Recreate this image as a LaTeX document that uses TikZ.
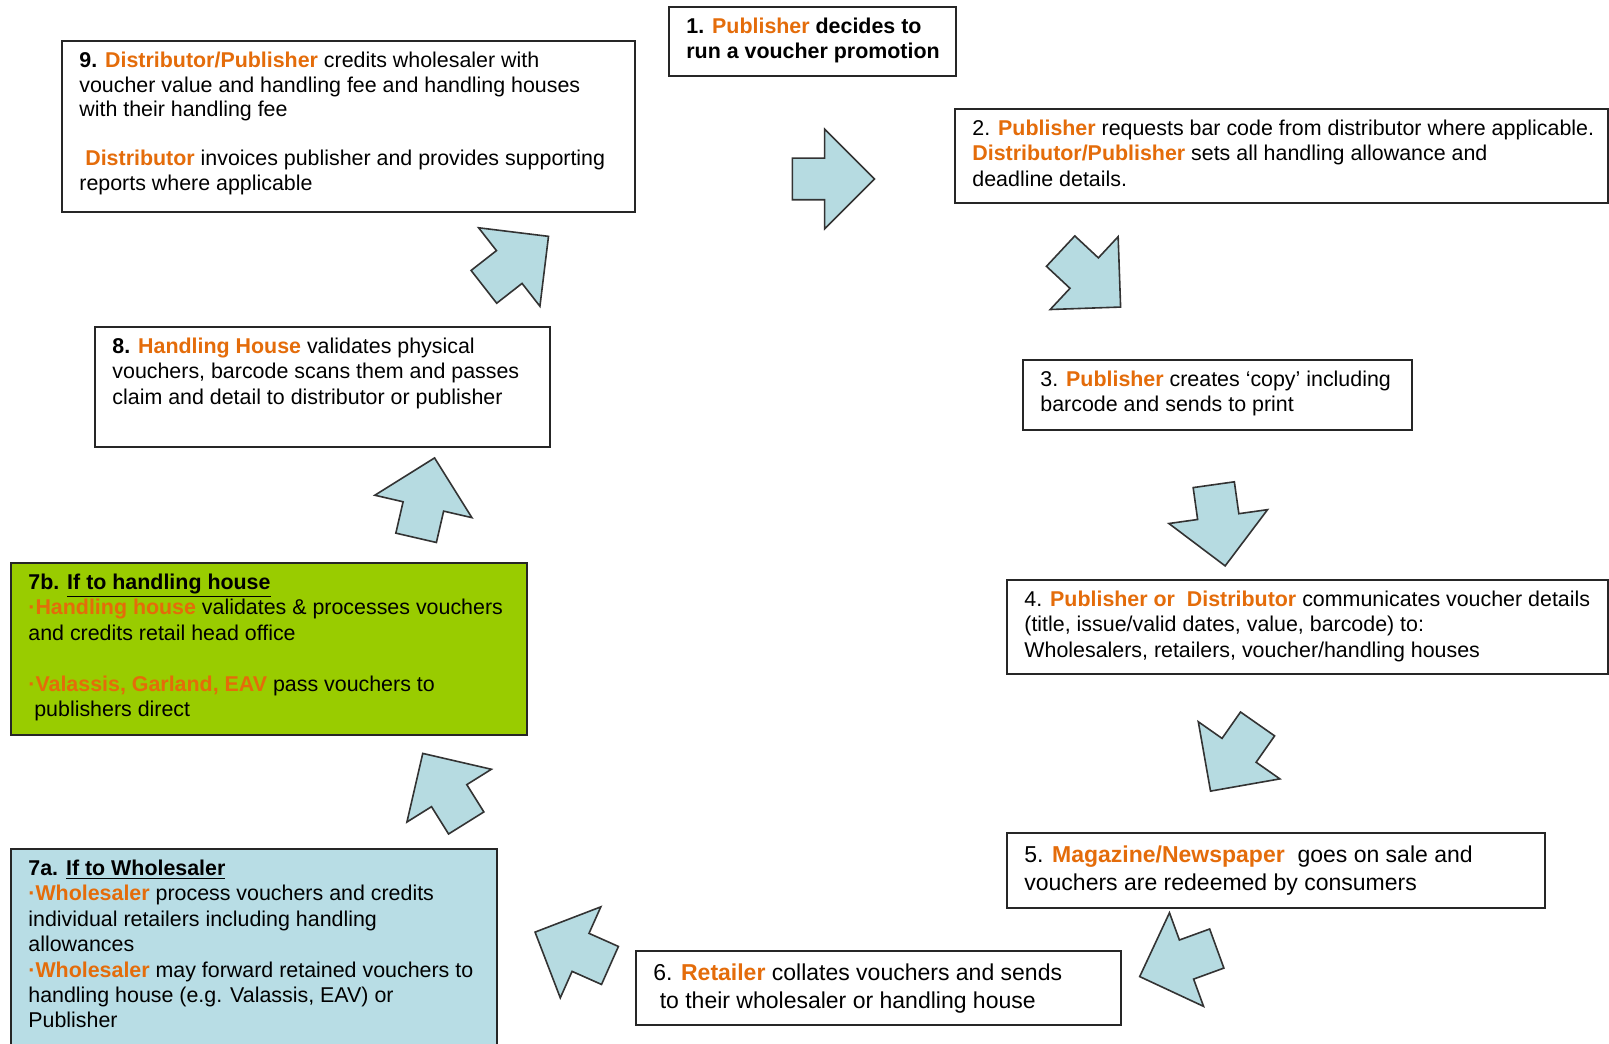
\documentclass[tikz,border=0pt]{standalone}
\usepackage{fontspec}
\setmainfont{Liberation Sans}
\usetikzlibrary{shapes.arrows}
\definecolor{actor}{RGB}{228,108,10}
\definecolor{flowblue}{RGB}{182,219,225}
\definecolor{whblue}{RGB}{184,221,229}
\definecolor{hhgreen}{RGB}{153,204,0}
\newcommand{\who}[1]{\textcolor{actor}{\textbf{#1}}}
\newcommand{\dotb}{\textcolor{actor}{\textbf{\char"00B7}}}

\begin{document}
\begin{tikzpicture}[x=0.5pt, y=-0.5pt]
	\tikzstyle{card} = [draw=black!85, line width=0.9pt, anchor=north west, inner sep=0pt]
	\tikzstyle{cardtext} = [anchor=north west, align=left, inner xsep=9pt, inner ysep=5.8pt, font=\fontsize{10.7}{12.7}\selectfont]
	\tikzstyle{flow} = [single arrow, draw=black!80, line width=0.8pt, fill=flowblue, minimum height=41pt, minimum width=49pt, single arrow head extend=14.5pt, inner xsep=0pt, inner ysep=10pt]
	\path[use as bounding box, fill=white] (0,0) rectangle (1609,1043);

	% the boxes
	\node[card, minimum width=143.5pt, minimum height=34.5pt] (s1) at (668,6) {};
	\node[card, minimum width=326.5pt, minimum height=47pt] (s2) at (954,108) {};
	\node[card, minimum width=194.5pt, minimum height=35pt] (s3) at (1022,359) {};
	\node[card, minimum width=300.5pt, minimum height=47pt] (s4) at (1006,579) {};
	\node[card, minimum width=269pt, minimum height=37.5pt] (s5) at (1006,832) {};
	\node[card, minimum width=242.5pt, minimum height=37pt] (s6) at (635,950) {};
	\node[card, fill=whblue, minimum width=243pt, minimum height=110pt] (s7a) at (10,848) {};
	\node[card, fill=hhgreen, minimum width=258pt, minimum height=86pt] (s7b) at (10,562) {};
	\node[card, minimum width=227.5pt, minimum height=60pt] (s8) at (94,326) {};
	\node[card, minimum width=286.5pt, minimum height=85.5pt] (s9) at (61,40) {};

	% the texts
	\node[cardtext, font=\fontsize{10.7}{12.3}\selectfont\bfseries] (t1) at (s1.north west) {1. \textcolor{actor}{Publisher} decides to\\run a voucher promotion};
	\node[cardtext] (t2) at (s2.north west) {2. \who{Publisher} requests bar code from distributor where applicable.\\\who{Distributor/Publisher} sets all handling allowance and\\deadline details.};
	\node[cardtext] (t3) at (s3.north west) {3. \who{Publisher} creates `copy' including\\barcode and sends to print};
	\node[cardtext] (t4) at (s4.north west) {4. \who{Publisher or\ \ Distributor} communicates voucher details\\(title, issue/valid dates, value, barcode) to:\\Wholesalers, retailers, voucher/handling houses};
	\node[cardtext, inner ysep=6.5pt, font=\fontsize{11.5}{14.4}\selectfont] (t5) at (s5.north west) {5. \who{Magazine/Newspaper}\ \ goes on sale and\\vouchers are redeemed by consumers};
	\node[cardtext, inner ysep=6.5pt, font=\fontsize{11.5}{14.4}\selectfont] (t6) at (s6.north west) {6. \who{Retailer} collates vouchers and sends\\\ to their wholesaler or handling house};
	\node[cardtext] (t7a) at (s7a.north west) {\textbf{7a. \underline{If to Wholesaler}}\\\dotb\who{Wholesaler} process vouchers and credits\\individual retailers including handling\\allowances\\\dotb\who{Wholesaler} may forward retained vouchers to\\handling house (e.g. Valassis, EAV) or\\Publisher};
	\node[cardtext] (t7b) at (s7b.north west) {\textbf{7b. \underline{If to handling house}}\\\dotb\who{Handling house} validates \& processes vouchers\\and credits retail head office\\[12.7pt]\dotb\who{Valassis, Garland, EAV} pass vouchers to\\\ publishers direct};
	\node[cardtext] (t8) at (s8.north west) {\textbf{8.} \who{Handling House} validates physical\\vouchers, barcode scans them and passes\\claim and detail to distributor or publisher};
	\node[cardtext, font=\fontsize{10.7}{12.3}\selectfont] (t9) at (s9.north west) {\textbf{9.} \who{Distributor/Publisher} credits wholesaler with\\voucher value and handling fee and handling houses\\with their handling fee\\[12.3pt]\ \who{Distributor} invoices publisher and provides supporting\\reports where applicable};

	% the arrows between the steps
	\node[flow, rotate=0] (a12) at (823,179) {};
	\node[flow, rotate=-43] (a23) at (1083,272) {};
	\node[flow, rotate=-82] (a34) at (1218,515) {};
	\node[flow, rotate=-125] (a45) at (1240,749) {};
	\node[flow, rotate=-160] (a56) at (1188,959) {};
	\node[flow, rotate=156] (a67) at (582,953) {};
	\node[flow, rotate=122] (a7) at (450,797) {};
	\node[flow, rotate=77] (a78) at (423,508) {};
	\node[flow, rotate=38] (a89) at (508,268) {};
\end{tikzpicture}
\end{document}
